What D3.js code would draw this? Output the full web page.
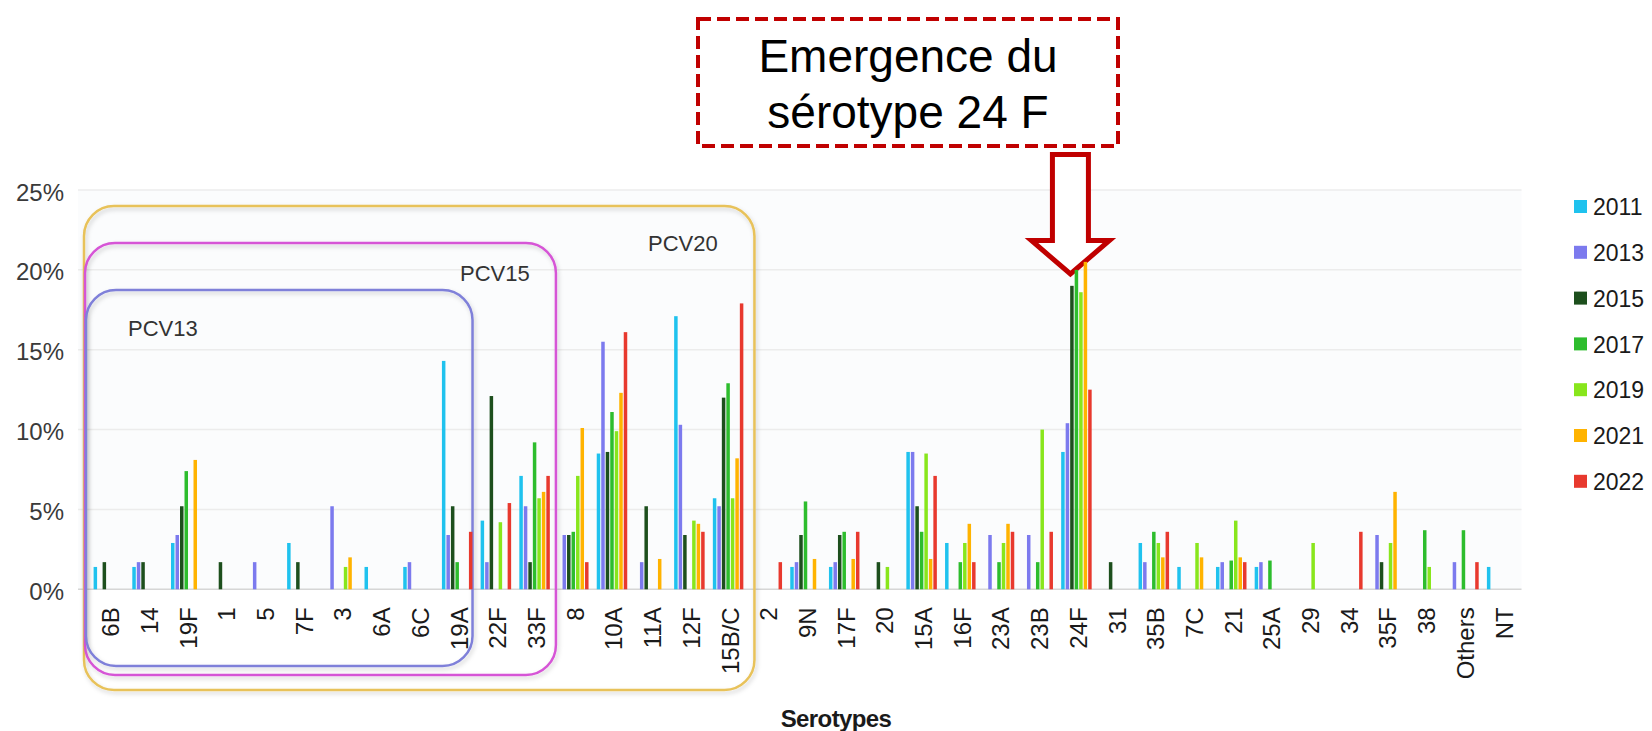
<!DOCTYPE html>
<html>
<head>
<meta charset="utf-8">
<script src="https://cdn.jsdelivr.net/npm/d3@7"></script>
<style>
  body { margin: 0; background: #ffffff; }
  svg { display: block; font-family: "Liberation Sans", Arial, sans-serif; }
</style>
</head>
<body>
<div id="chart"></div>
<script>
// serotypes on the x axis
var serotypes = ["6B", "14", "19F", "1", "5", "7F", "3", "6A", "6C", "19A", "22F", "33F",
    "8", "10A", "11A", "12F", "15B/C", "2", "9N", "17F", "20", "15A", "16F", "23A", "23B",
    "24F", "31", "35B", "7C", "21", "25A", "29", "34", "35F", "38", "Others", "NT"];

var years = ["2011", "2013", "2015", "2017", "2019", "2021", "2022"];

// percentage of isolates per serotype, one array per year
var y2011 = [1.4, 1.4, 2.9, 0, 0, 2.9, 0, 1.4, 1.4, 14.3, 4.3, 7.1, 0, 8.5, 0, 17.1, 5.7, 0, 1.4, 1.4, 0, 8.6, 2.9, 0, 0, 8.6, 0, 2.9, 1.4, 1.4, 1.4, 0, 0, 0, 0, 0, 1.4];
var y2013 = [0, 1.7, 3.4, 0, 1.7, 0, 5.2, 0, 1.7, 3.4, 1.7, 5.2, 3.4, 15.5, 1.7, 10.3, 5.2, 0, 1.7, 1.7, 0, 8.6, 0, 3.4, 3.4, 10.4, 0, 1.7, 0, 1.7, 1.7, 0, 0, 3.4, 0, 1.7, 0];
var y2015 = [1.7, 1.7, 5.2, 1.7, 0, 1.7, 0, 0, 0, 5.2, 12.1, 1.7, 3.4, 8.6, 5.2, 3.4, 12.0, 0, 3.4, 3.4, 1.7, 5.2, 0, 0, 0, 19.0, 1.7, 0, 0, 0, 0, 0, 0, 1.7, 0, 0, 0];
var y2017 = [0, 0, 7.4, 0, 0, 0, 0, 0, 0, 1.7, 0, 9.2, 3.6, 11.1, 0, 0, 12.9, 0, 5.5, 3.6, 0, 3.6, 1.7, 1.7, 1.7, 20.0, 0, 3.6, 0, 1.8, 1.8, 0, 0, 0, 3.7, 3.7, 0];
var y2019 = [0, 0, 0, 0, 0, 0, 1.4, 0, 0, 0, 4.2, 5.7, 7.1, 9.9, 0, 4.3, 5.7, 0, 0, 0, 1.4, 8.5, 2.9, 2.9, 10.0, 18.6, 0, 2.9, 2.9, 4.3, 0, 2.9, 0, 2.9, 1.4, 0, 0];
var y2021 = [0, 0, 8.1, 0, 0, 0, 2.0, 0, 0, 0, 0, 6.1, 10.1, 12.3, 1.9, 4.1, 8.2, 0, 1.9, 1.9, 0, 1.9, 4.1, 4.1, 0, 20.5, 0, 2.0, 2.0, 2.0, 0, 0, 0, 6.1, 0, 0, 0];
var y2022 = [0, 0, 0, 0, 0, 0, 0, 0, 0, 3.6, 5.4, 7.1, 1.7, 16.1, 0, 3.6, 17.9, 1.7, 0, 3.6, 0, 7.1, 1.7, 3.6, 3.6, 12.5, 0, 3.6, 0, 1.7, 0, 0, 3.6, 0, 0, 1.7, 0];

var yTicks = [0, 5, 10, 15, 20, 25];

// vaccine coverage groups (last serotype included)
var vaccineNames = ["PCV20", "PCV15", "PCV13"];
var vaccineLast = ["15B/C", "33F", "19A"];

var seriesValues = [y2011, y2013, y2015, y2017, y2019, y2021, y2022];
var colors = ["#1fc2ee", "#7c7aee", "#1d4f1d", "#2dbd2d", "#88e61c", "#ffb300", "#e8392e"];

var W = 1652, H = 731;
var plotLeft = 89.5, plotRight = 1521.5, plotTop = 190, plotBottom = 589.3;

var svg = d3.select("#chart").append("svg")
    .attr("width", W)
    .attr("height", H);

var defs = svg.append("defs");
defs.append("filter").attr("id", "soft")
    .attr("x", "-5%").attr("y", "-5%").attr("width", "110%").attr("height", "110%")
    .append("feDropShadow")
    .attr("dx", 1.5).attr("dy", 2.5).attr("stdDeviation", 2)
    .attr("flood-color", "#000").attr("flood-opacity", 0.18);

// scales
var x0 = d3.scaleBand()
    .domain(serotypes)
    .range([plotLeft, plotRight])
    .paddingInner(0.186)
    .paddingOuter(0.093);
var x1 = d3.scaleBand()
    .domain(years)
    .range([0, x0.bandwidth()]);
var y = d3.scaleLinear()
    .domain([0, 25])
    .range([plotBottom, plotTop]);

var color = d3.scaleOrdinal().domain(years).range(colors);

// plot background + gridlines
svg.append("rect")
    .attr("x", 78).attr("y", plotTop)
    .attr("width", plotRight - 78).attr("height", plotBottom - plotTop)
    .attr("fill", "#fbfcfd");

svg.append("g")
    .selectAll("line")
    .data(yTicks)
    .enter().append("line")
    .attr("x1", 78).attr("x2", plotRight)
    .attr("y1", function (d) { return y(d); })
    .attr("y2", function (d) { return y(d); })
    .attr("stroke", function (d) { return d === 0 ? "#d6d6d6" : "#ececec"; })
    .attr("stroke-width", 1.5);

// y axis labels
var yAxis = svg.append("g")
    .attr("transform", "translate(64,0)")
    .call(d3.axisLeft(y).tickValues(yTicks).tickSize(0).tickPadding(0)
        .tickFormat(function (d) { return d + "%"; }));
yAxis.select(".domain").remove();
yAxis.selectAll("text")
    .attr("dy", "0.42em")
    .style("font-size", "24px")
    .style("font-family", "'Liberation Sans', Arial, sans-serif")
    .attr("fill", "#3a3a3a");

// vaccine boxes
var step = x0.step();
var boxLeft = [84, 85, 86];
var boxRightAdj = [7, 2, -4];
var boxTop = [206, 243, 290];
var boxBottom = [690, 675, 666];
var boxColor = ["#e8c25a", "#d655d6", "#7f80d9"];
var boxLabelX = [648, 460, 128];
var boxLabelY = [251, 281, 336];

var boxes = svg.append("g");
vaccineNames.forEach(function (name, i) {
    var xr = x0(vaccineLast[i]) - x0.paddingOuter() * step + step + boxRightAdj[i];
    boxes.append("rect")
        .attr("x", boxLeft[i]).attr("y", boxTop[i])
        .attr("width", xr - boxLeft[i])
        .attr("height", boxBottom[i] - boxTop[i])
        .attr("rx", 30).attr("ry", 30)
        .attr("fill", "none")
        .attr("stroke", boxColor[i])
        .attr("stroke-width", 2.5)
        .attr("filter", "url(#soft)");
    boxes.append("text")
        .attr("x", boxLabelX[i]).attr("y", boxLabelY[i])
        .style("font-size", "22px")
        .attr("fill", "#333")
        .text(name);
});

// arrow pointing at 24F
var ax = x0("24F") + x0.bandwidth() / 2 - 6;
var arrow = d3.path();
arrow.moveTo(ax - 18, 154.5);
arrow.lineTo(ax + 18, 154.5);
arrow.lineTo(ax + 18, 240.5);
arrow.lineTo(ax + 39, 240.5);
arrow.lineTo(ax, 274);
arrow.lineTo(ax - 39, 240.5);
arrow.lineTo(ax - 18, 240.5);
arrow.closePath();
svg.append("path")
    .attr("d", arrow.toString())
    .attr("fill", "#ffffff")
    .attr("stroke", "#c00000")
    .attr("stroke-width", 5)
    .attr("stroke-linejoin", "miter");

// bars
var groups = svg.append("g")
    .selectAll("g")
    .data(serotypes)
    .enter().append("g")
    .attr("transform", function (d) { return "translate(" + x0(d) + ",0)"; });

groups.selectAll("rect")
    .data(function (d, i) {
        return years.map(function (yr, k) { return { year: yr, value: seriesValues[k][i] }; })
            .filter(function (e) { return e.value > 0; });
    })
    .enter().append("rect")
    .attr("x", function (d) { return x1(d.year) + 0.5; })
    .attr("width", 3.5)
    .attr("y", function (d) { return y(d.value); })
    .attr("height", function (d) { return y(0) - y(d.value); })
    .attr("fill", function (d) { return color(d.year); });

// x axis labels (rotated)
var xAxis = svg.append("g")
    .attr("transform", "translate(0," + plotBottom + ")")
    .call(d3.axisBottom(x0).tickSize(0));
xAxis.select(".domain").remove();
xAxis.selectAll("text")
    .attr("transform", "rotate(-90)")
    .attr("x", -18)
    .attr("y", 2)
    .attr("dy", "0.35em")
    .style("text-anchor", "end")
    .style("font-size", "24px")
    .style("font-family", "'Liberation Sans', Arial, sans-serif")
    .attr("fill", "#1a1a1a");

svg.append("text")
    .attr("x", 836).attr("y", 727)
    .attr("text-anchor", "middle")
    .style("font-size", "24px")
    .style("font-weight", "bold")
    .style("letter-spacing", "-0.6px")
    .attr("fill", "#1a1a1a")
    .text("Serotypes");

// legend
var legend = svg.append("g")
    .selectAll("g")
    .data(years)
    .enter().append("g")
    .attr("transform", function (d, i) { return "translate(1574," + (207 + i * 45.8) + ")"; });
legend.append("rect")
    .attr("x", 0).attr("y", -7)
    .attr("width", 13).attr("height", 13)
    .attr("fill", function (d) { return color(d); });
legend.append("text")
    .attr("x", 19).attr("y", 0)
    .attr("dy", "0.36em")
    .style("font-size", "23px")
    .attr("fill", "#1a1a1a")
    .text(function (d) { return d; });

// annotation box
svg.append("rect")
    .attr("x", 698).attr("y", 19)
    .attr("width", 420).attr("height", 127)
    .attr("fill", "none")
    .attr("stroke", "#c00000")
    .attr("stroke-width", 4)
    .attr("stroke-dasharray", "13,6");
svg.append("text")
    .attr("x", 908).attr("y", 72)
    .attr("text-anchor", "middle")
    .style("font-size", "46px")
    .attr("fill", "#000")
    .text("Emergence du");
svg.append("text")
    .attr("x", 908).attr("y", 128)
    .attr("text-anchor", "middle")
    .style("font-size", "46px")
    .attr("fill", "#000")
    .text("sérotype 24 F");
</script>
</body>
</html>
